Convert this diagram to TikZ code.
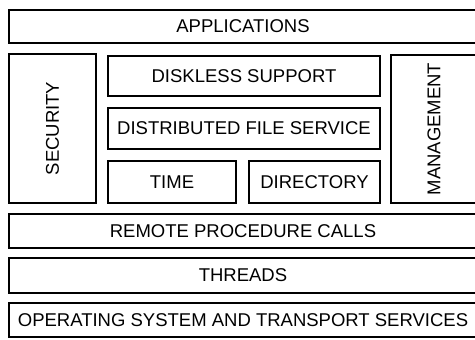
\documentclass[tikz,border=0pt]{standalone}
\usepackage{fontspec}
\setmainfont{Liberation Sans}
\tikzset{
  layer/.style={draw,line width=1.6pt,inner sep=0pt,
    font=\fontsize{18.5}{20}\selectfont},
  upright/.style={layer,rotate=90}
}
\begin{document}
\begin{tikzpicture}[x=1pt,y=-1pt]
            \useasboundingbox (0,0) rectangle (475,340);

            \node[layer,minimum width=468,minimum height=33] (apps) at (243,26.5) {APPLICATIONS};

            \node[upright,minimum width=149,minimum height=87] (security) at (52.5,128.5) {SECURITY};
            \node[layer,minimum width=272,minimum height=40] (diskless) at (244,76) {DISKLESS SUPPORT};
            \node[layer,minimum width=272,minimum height=41] (dfs) at (244,128.5) {DISTRIBUTED FILE SERVICE};
            \node[layer,minimum width=128,minimum height=42] (time) at (172,182) {TIME};
            \node[layer,minimum width=131,minimum height=42] (directory) at (314.5,182) {DIRECTORY};
            \node[upright,minimum width=148,minimum height=86] (management) at (434,129) {MANAGEMENT};

            \node[layer,minimum width=468,minimum height=34] (rpc) at (243,231) {REMOTE PROCEDURE CALLS};
            \node[layer,minimum width=468,minimum height=35] (threads) at (243,275.5) {THREADS};
            \node[layer,minimum width=468,minimum height=34] (os) at (243,320) {OPERATING SYSTEM AND TRANSPORT SERVICES};
        \end{tikzpicture}
\end{document}
